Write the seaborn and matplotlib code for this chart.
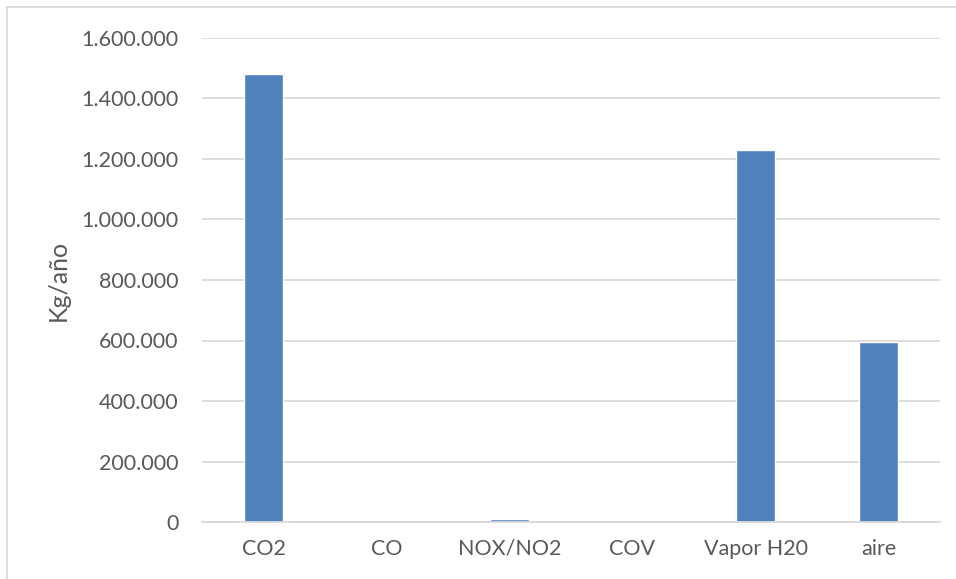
import matplotlib
matplotlib.use("Agg")
import matplotlib.pyplot as plt
from matplotlib.patches import Rectangle
from matplotlib.ticker import FuncFormatter, MultipleLocator
import seaborn as sns
import pandas as pd

# Annual emissions by component
categories = ["CO2", "CO", "NOX/NO2", "COV", "Vapor H20", "aire"]
values = [1480000, 0, 9000, 0, 1230000, 595000]
y_label = "Kg/año"

df = pd.DataFrame({"componente": categories, "kg": values})

sns.set_theme(style="white")
plt.rcParams["font.family"] = ["Lato", "DejaVu Sans"]

W, H, DPI = 956, 579, 100
fig = plt.figure(figsize=(W / DPI, H / DPI), dpi=DPI)
ax = fig.add_axes([202 / W, (H - 522) / H, (940 - 202) / W, 484 / H])

sns.barplot(data=df, x="componente", y="kg", color="#4F81BD", saturation=1,
            width=0.31, ax=ax)

ax.set_ylim(0, 1600000)
ax.yaxis.set_major_locator(MultipleLocator(200000))
ax.yaxis.set_major_formatter(FuncFormatter(lambda v, p: f"{int(v):,}".replace(",", ".")))
ax.set_xlim(-0.5, len(categories) - 0.5)

ax.grid(axis="y", color="#D9D9D9", linewidth=1.3)
ax.set_axisbelow(True)
for side in ["left", "right", "top"]:
    ax.spines[side].set_visible(False)
ax.spines["bottom"].set_color("#D9D9D9")
ax.spines["bottom"].set_linewidth(1.3)

ax.tick_params(axis="y", length=0, pad=17, labelsize=15.5, labelcolor="#595959")
ax.tick_params(axis="x", length=0, pad=12, labelsize=15.5, labelcolor="#595959")
ax.set_xlabel("")
ax.set_ylabel(y_label, fontsize=18, color="#595959", labelpad=8)

# Chart area frame
fig.patches.append(Rectangle((7 / W, -0.05), 1.1, (H - 7) / H + 0.05,
                             transform=fig.transFigure, fill=False,
                             edgecolor="#D9D9D9", linewidth=1.3))

fig.savefig("out.png", dpi=DPI)
